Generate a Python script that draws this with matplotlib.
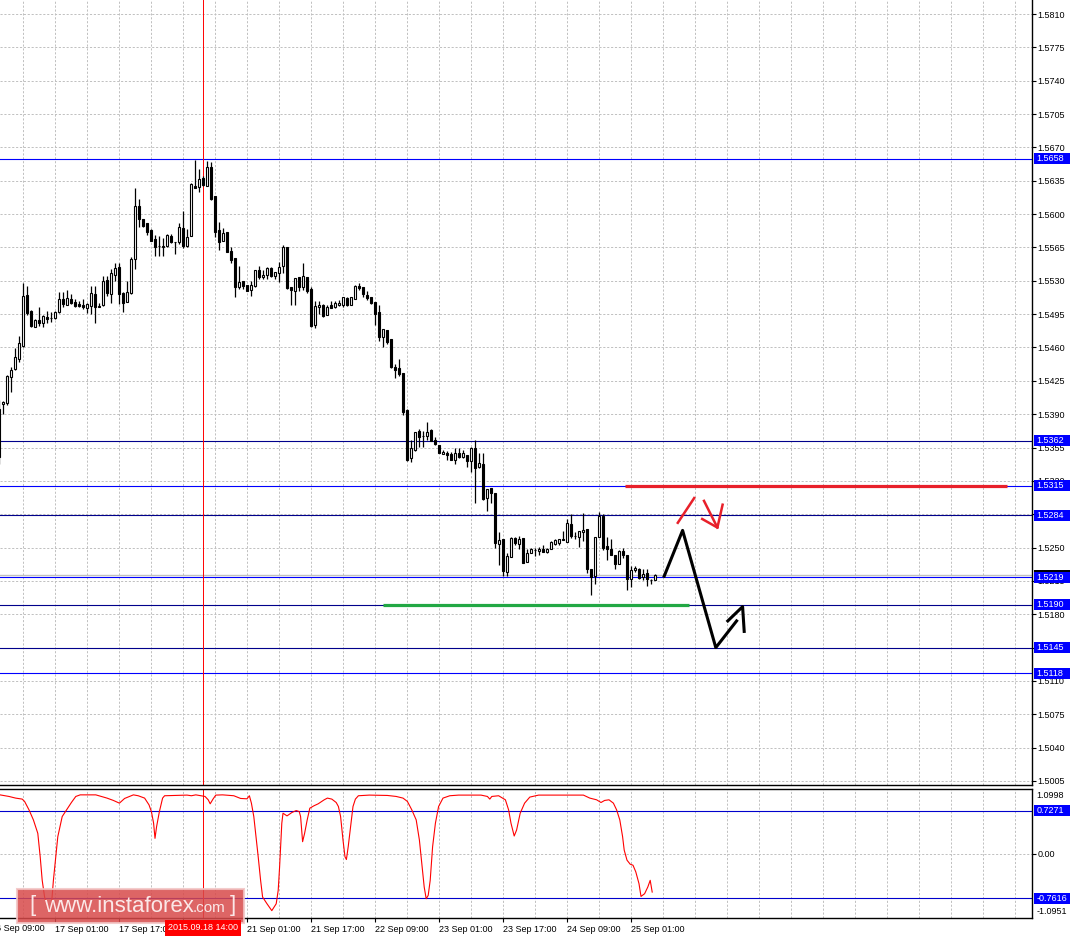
import numpy as np
import matplotlib
matplotlib.use('Agg')
import matplotlib.pyplot as plt
from matplotlib.patches import Rectangle

plt.rcParams['font.family'] = ['Liberation Sans', 'DejaVu Sans']

# H1 candles, bar -1 is cut at the left edge
first_bar = -1
opens = [
    1.5395, 1.5401, 1.5402, 1.5429, 1.5437, 1.5448, 1.5462, 1.5515, 1.5498, 1.5482,
    1.5489, 1.5486, 1.5492, 1.5491, 1.5491, 1.5497, 1.5511, 1.5505, 1.5511, 1.5508,
    1.5506, 1.5505, 1.5501, 1.5504, 1.5516, 1.5502, 1.5505, 1.5531, 1.5516, 1.5536,
    1.5544, 1.5517, 1.5508, 1.5517, 1.5553, 1.5608, 1.5595, 1.5591, 1.5583, 1.5574,
    1.5566, 1.5565, 1.5567, 1.5577, 1.5571, 1.5571, 1.5585, 1.5567, 1.5577, 1.5630,
    1.5628, 1.5638, 1.5630, 1.5649, 1.5619, 1.5583, 1.5572, 1.5581, 1.5561, 1.5554,
    1.5523, 1.5530, 1.5526, 1.5520, 1.5525, 1.5541, 1.5534, 1.5536, 1.5543, 1.5535,
    1.5538, 1.5545, 1.5565, 1.5524, 1.5519, 1.5534, 1.5524, 1.5534, 1.5521, 1.5484,
    1.5503, 1.5505, 1.5494, 1.5505, 1.5502, 1.5505, 1.5505, 1.5512, 1.5505, 1.5511,
    1.5525, 1.5523, 1.5515, 1.5513, 1.5508, 1.5497, 1.5471, 1.5478, 1.5469, 1.5440,
    1.5438, 1.5433, 1.5394, 1.5344, 1.5352, 1.5372, 1.5367, 1.5367, 1.5373, 1.5363,
    1.5358, 1.5348, 1.5349, 1.5348, 1.5342, 1.5349, 1.5345, 1.5347, 1.5341, 1.5354,
    1.5335, 1.5338, 1.5302, 1.5313, 1.5307, 1.5254, 1.5259, 1.5224, 1.5240, 1.5260,
    1.5254, 1.5260, 1.5235, 1.5244, 1.5247, 1.5246, 1.5248, 1.5245, 1.5248, 1.5254,
    1.5255, 1.5259, 1.5256, 1.5275, 1.5262, 1.5261, 1.5266, 1.5269, 1.5228, 1.5220,
    1.5261, 1.5283, 1.5252, 1.5249, 1.5242, 1.5233, 1.5246, 1.5242, 1.5217, 1.5226,
    1.5228, 1.5219, 1.5223, 1.5216, 1.5216,
]
highs = [
    1.5405, 1.5404, 1.5431, 1.5440, 1.5459, 1.5472, 1.5528, 1.5525, 1.5499, 1.5490,
    1.5503, 1.5494, 1.5498, 1.5497, 1.5498, 1.5518, 1.5518, 1.5520, 1.5516, 1.5511,
    1.5509, 1.5511, 1.5507, 1.5525, 1.5525, 1.5507, 1.5535, 1.5535, 1.5542, 1.5549,
    1.5549, 1.5518, 1.5530, 1.5555, 1.5627, 1.5616, 1.5595, 1.5591, 1.5584, 1.5578,
    1.5577, 1.5575, 1.5579, 1.5579, 1.5571, 1.5591, 1.5603, 1.5584, 1.5633, 1.5657,
    1.5647, 1.5640, 1.5656, 1.5655, 1.5619, 1.5592, 1.5585, 1.5581, 1.5565, 1.5554,
    1.5546, 1.5530, 1.5526, 1.5530, 1.5541, 1.5545, 1.5541, 1.5544, 1.5544, 1.5539,
    1.5550, 1.5568, 1.5565, 1.5524, 1.5533, 1.5534, 1.5549, 1.5534, 1.5524, 1.5509,
    1.5509, 1.5506, 1.5505, 1.5509, 1.5509, 1.5510, 1.5513, 1.5513, 1.5513, 1.5526,
    1.5528, 1.5524, 1.5519, 1.5513, 1.5508, 1.5505, 1.5479, 1.5478, 1.5469, 1.5443,
    1.5448, 1.5433, 1.5395, 1.5363, 1.5371, 1.5374, 1.5372, 1.5382, 1.5374, 1.5366,
    1.5358, 1.5352, 1.5351, 1.5350, 1.5354, 1.5354, 1.5352, 1.5347, 1.5356, 1.5363,
    1.5349, 1.5349, 1.5311, 1.5313, 1.5307, 1.5266, 1.5259, 1.5244, 1.5261, 1.5261,
    1.5262, 1.5260, 1.5248, 1.5250, 1.5250, 1.5251, 1.5253, 1.5250, 1.5257, 1.5259,
    1.5259, 1.5267, 1.5280, 1.5285, 1.5266, 1.5267, 1.5286, 1.5269, 1.5228, 1.5261,
    1.5287, 1.5285, 1.5261, 1.5259, 1.5242, 1.5247, 1.5250, 1.5242, 1.5231, 1.5231,
    1.5229, 1.5227, 1.5227, 1.5217, 1.5222,
]
lows = [
    1.5338, 1.5390, 1.5400, 1.5413, 1.5436, 1.5445, 1.5461, 1.5494, 1.5482, 1.5482,
    1.5483, 1.5482, 1.5486, 1.5487, 1.5490, 1.5496, 1.5503, 1.5505, 1.5506, 1.5503,
    1.5503, 1.5500, 1.5496, 1.5495, 1.5486, 1.5502, 1.5504, 1.5514, 1.5507, 1.5530,
    1.5506, 1.5497, 1.5508, 1.5516, 1.5542, 1.5586, 1.5586, 1.5578, 1.5572, 1.5556,
    1.5556, 1.5556, 1.5565, 1.5570, 1.5558, 1.5569, 1.5564, 1.5565, 1.5577, 1.5627,
    1.5623, 1.5630, 1.5630, 1.5615, 1.5576, 1.5562, 1.5572, 1.5560, 1.5549, 1.5513,
    1.5521, 1.5521, 1.5519, 1.5514, 1.5524, 1.5532, 1.5532, 1.5532, 1.5534, 1.5532,
    1.5529, 1.5538, 1.5521, 1.5505, 1.5505, 1.5519, 1.5520, 1.5517, 1.5482, 1.5480,
    1.5495, 1.5492, 1.5494, 1.5501, 1.5501, 1.5504, 1.5503, 1.5504, 1.5505, 1.5511,
    1.5520, 1.5513, 1.5510, 1.5506, 1.5484, 1.5467, 1.5460, 1.5464, 1.5438, 1.5428,
    1.5430, 1.5389, 1.5341, 1.5340, 1.5351, 1.5356, 1.5356, 1.5363, 1.5362, 1.5358,
    1.5349, 1.5348, 1.5342, 1.5342, 1.5338, 1.5344, 1.5344, 1.5335, 1.5329, 1.5297,
    1.5334, 1.5300, 1.5288, 1.5297, 1.5250, 1.5232, 1.5220, 1.5220, 1.5240, 1.5253,
    1.5248, 1.5234, 1.5235, 1.5244, 1.5241, 1.5242, 1.5245, 1.5244, 1.5248, 1.5253,
    1.5253, 1.5258, 1.5256, 1.5260, 1.5259, 1.5251, 1.5257, 1.5223, 1.5200, 1.5212,
    1.5261, 1.5247, 1.5237, 1.5242, 1.5228, 1.5233, 1.5239, 1.5205, 1.5209, 1.5224,
    1.5217, 1.5216, 1.5210, 1.5212, 1.5216,
]
closes = [
    1.5345, 1.5403, 1.5430, 1.5436, 1.5450, 1.5465, 1.5514, 1.5496, 1.5483, 1.5489,
    1.5486, 1.5493, 1.5490, 1.5491, 1.5497, 1.5511, 1.5506, 1.5512, 1.5507, 1.5504,
    1.5504, 1.5503, 1.5506, 1.5517, 1.5503, 1.5504, 1.5530, 1.5517, 1.5538, 1.5543,
    1.5516, 1.5507, 1.5518, 1.5553, 1.5609, 1.5595, 1.5588, 1.5581, 1.5572, 1.5565,
    1.5566, 1.5567, 1.5578, 1.5571, 1.5571, 1.5586, 1.5567, 1.5576, 1.5632, 1.5627,
    1.5637, 1.5631, 1.5649, 1.5616, 1.5581, 1.5571, 1.5580, 1.5560, 1.5552, 1.5524,
    1.5529, 1.5525, 1.5519, 1.5526, 1.5541, 1.5534, 1.5536, 1.5543, 1.5535, 1.5539,
    1.5544, 1.5565, 1.5522, 1.5520, 1.5533, 1.5523, 1.5535, 1.5519, 1.5483, 1.5504,
    1.5505, 1.5493, 1.5503, 1.5501, 1.5507, 1.5507, 1.5513, 1.5505, 1.5513, 1.5525,
    1.5522, 1.5516, 1.5512, 1.5507, 1.5495, 1.5471, 1.5479, 1.5466, 1.5439, 1.5436,
    1.5432, 1.5392, 1.5342, 1.5354, 1.5371, 1.5366, 1.5367, 1.5371, 1.5362, 1.5359,
    1.5349, 1.5350, 1.5347, 1.5342, 1.5349, 1.5345, 1.5349, 1.5341, 1.5355, 1.5334,
    1.5339, 1.5301, 1.5311, 1.5307, 1.5255, 1.5258, 1.5225, 1.5241, 1.5260, 1.5255,
    1.5259, 1.5234, 1.5244, 1.5248, 1.5247, 1.5248, 1.5245, 1.5248, 1.5256, 1.5258,
    1.5259, 1.5258, 1.5276, 1.5262, 1.5262, 1.5267, 1.5268, 1.5227, 1.5219, 1.5261,
    1.5283, 1.5250, 1.5248, 1.5242, 1.5233, 1.5246, 1.5242, 1.5217, 1.5226, 1.5229,
    1.5218, 1.5222, 1.5217, 1.5216, 1.5221,
]

# oscillator in the lower window (vertices)
ind_bars = [-0.75, 1.5, 3.15, 4.8, 5.4, 6.5, 7.6, 8.7, 9.3, 9.8, 10.4, 11.3, 12.0, 12.6,
            13.2, 13.7, 14.8, 16.0, 17.1, 18.2, 19.3, 23.2, 26.0, 27.6, 29.1, 30.4, 32.6,
            33.8, 35.4, 36.5, 37.1, 37.65, 38.0, 38.4, 39.1, 39.9, 40.4, 46.0, 47.1, 48.2,
            50.5, 51.3, 51.8, 52.5, 53.2, 54.9, 57.7, 59.4, 61.0, 61.6, 62.1, 62.7, 63.25,
            63.8, 64.4, 64.9, 66.0, 67.2, 68.3, 68.8, 69.15, 69.4, 69.7, 70.0, 71.0, 72.2,
            73.3, 74.05, 74.4, 74.9, 75.4, 76.05, 76.7, 77.7, 78.8, 80.3, 81.1, 82.2, 83.3,
            83.85, 84.4, 85.0, 85.5, 85.85, 86.3, 87.0, 87.5, 88.1, 88.85, 91.6, 96.1, 98.3,
            100.0, 101.1, 102.2, 103.3, 104.1, 104.8, 105.3, 105.8, 106.3, 106.8, 107.4,
            108.1, 108.9, 110.0, 111.7, 113.9, 119.5, 121.1, 121.7, 122.2, 123.9, 125.6,
            126.4, 127.0, 127.8, 128.4, 129.3, 130.4, 131.7, 133.9, 145.1, 146.7, 148.4,
            149.5, 150.4, 151.5, 152.6, 153.4, 154.2, 154.9, 155.3, 156.0, 156.8, 157.5,
            158.2, 159.0, 159.5, 160.4, 161.2, 161.8, 162.3]
ind_vals = [1.00, 0.973, 0.945, 0.928, 0.888, 0.745, 0.574, 0.345, -0.054, -0.454, -0.739,
            -0.97, -0.97, -0.454, -0.054, 0.288, 0.631, 0.756, 0.870, 0.973, 1.00, 1.00,
            0.945, 0.905, 0.859, 0.939, 1.00, 0.985, 0.945, 0.830, 0.716, 0.517, 0.260,
            0.460, 0.716, 0.945, 0.985, 0.996, 0.985, 1.00, 0.973, 0.916, 0.848, 0.928,
            0.996, 1.00, 0.985, 0.939, 0.933, 0.985, 0.859, 0.631, 0.288, -0.054, -0.454,
            -0.739, -0.853, -0.97, -0.853, -0.625, -0.225, 0.117, 0.517, 0.688, 0.642,
            0.699, 0.733, 0.716, 0.631, 0.203, 0.345, 0.574, 0.773, 0.813, 0.848, 0.916,
            0.945, 0.928, 0.870, 0.802, 0.631, 0.231, -0.054, -0.100, 0.117, 0.517, 0.802,
            0.928, 0.985, 0.996, 0.990, 0.973, 0.945, 0.888, 0.745, 0.574, 0.231, -0.225,
            -0.568, -0.768, -0.711, -0.454, 0.117, 0.517, 0.802, 0.945, 0.985, 0.996,
            0.996, 0.973, 0.928, 0.973, 0.985, 0.916, 0.745, 0.517, 0.300, 0.402, 0.688,
            0.859, 0.962, 0.996, 0.996, 0.945, 0.916, 0.870, 0.905, 0.916, 0.859, 0.745,
            0.574, 0.288, 0.060, -0.111, -0.180, -0.197, -0.311, -0.511, -0.728, -0.682,
            -0.568, -0.454, -0.654]

price_ticks = [1.5005, 1.5040, 1.5075, 1.5110, 1.5145, 1.5180, 1.5215, 1.5250, 1.5285,
               1.5320, 1.5355, 1.5390, 1.5425, 1.5460, 1.5495, 1.5530, 1.5565, 1.5600,
               1.5635, 1.5670, 1.5705, 1.5740, 1.5775, 1.5810]
levels = [1.5658, 1.5362, 1.5315, 1.5284, 1.5219, 1.5190, 1.5145, 1.5118]
level_colors = ['#0000ff', '#00008b', '#0000ff', '#00008b', '#0000ff', '#00008b', '#00008b', '#0000ff']
current_price = 1.5221
ind_levels = [0.7271, -0.7616]

time_ticks = [13, 29, 45, 61, 77, 93, 109, 125, 141, 157]
time_labels = ['17 Sep 01:00', '17 Sep 17:00', '18 Sep 09:00', '21 Sep 01:00', '21 Sep 17:00',
               '22 Sep 09:00', '23 Sep 01:00', '23 Sep 17:00', '24 Sep 09:00', '25 Sep 01:00']
cursor_bar = 50
cursor_label = '2015.09.18 14:00'

# hand drawn forecast
red_level_bars = [155.5, 251.0]
green_level_bars = [95.0, 171.5]
black_path_x = [165.3, 169.9, 178.2, 183.4]
black_path_y = [1.5220, 1.5268, 1.5145, 1.5173]
black_head_x = [181.2, 184.9, 185.3]
black_head_y = [1.5173, 1.5188, 1.5162]
red_up_x = [168.7, 172.8]
red_up_y = [1.5276, 1.5302]
red_down_x = [175.25, 178.6]
red_down_y = [1.5299, 1.5271]
red_head_x = [174.8, 178.6, 179.9]
red_head_y = [1.5280, 1.5271, 1.5295]

W, H = 1074, 940
fig = plt.figure(figsize=(W / 100, H / 100), dpi=100)
ax = fig.add_axes([0, 1 - 785 / H, 1032 / W, 785 / H])
ax2 = fig.add_axes([0, 1 - 918 / H, 1032 / W, 129 / H])

xmin, xmax = -0.75, 257.25
grid_kw = dict(color='#c0c0c0', lw=0.7, linestyle=(0, (2.2, 1.8)), zorder=0)
grid_bars = np.arange(5, 258, 8)

# ---- price window ----
ax.set_xlim(xmin, xmax)
ax.set_ylim(1.50008, 1.58247)
for b in grid_bars:
    ax.axvline(b, **grid_kw)
for p in price_ticks:
    ax.axhline(p, **grid_kw)

bars = np.arange(len(opens)) + first_bar
o = np.array(opens); c = np.array(closes)
ax.vlines(bars, lows, highs, color='black', lw=0.9, zorder=3)
up = c >= o
ax.bar(bars[up], np.maximum(c[up] - o[up], 0.00001), bottom=o[up], width=0.62,
       facecolor='white', edgecolor='black', lw=0.8, zorder=4)
ax.bar(bars[~up], o[~up] - c[~up], bottom=c[~up], width=0.62,
       facecolor='black', edgecolor='black', lw=0.8, zorder=4)

ax.axhline(current_price, color='#c0c0c0', lw=1.0, zorder=1)
for lv, col in zip(levels, level_colors):
    ax.axhline(lv, color=col, lw=0.8, zorder=2)
ax.axvline(cursor_bar, color='#ff0000', lw=0.7, zorder=2)

ax.plot(red_level_bars, [1.5315, 1.5315], color='#e8202a', lw=2.3, solid_capstyle='butt', zorder=5)
ax.plot(green_level_bars, [1.5190, 1.5190], color='#22a844', lw=2.3, solid_capstyle='butt', zorder=5)
ax.plot(black_path_x, black_path_y, color='black', lw=2.2, zorder=6)
ax.plot(black_head_x, black_head_y, color='black', lw=2.2, zorder=6)
ax.plot(red_up_x, red_up_y, color='#e8202a', lw=1.8, zorder=6)
ax.plot(red_down_x, red_down_y, color='#e8202a', lw=1.8, zorder=6)
ax.plot(red_head_x, red_head_y, color='#e8202a', lw=1.8, zorder=6)

ax.yaxis.tick_right()
ax.set_yticks(price_ticks)
ax.set_yticklabels([f'{p:.4f}' for p in price_ticks])
ax.tick_params(axis='y', direction='out', length=3, width=0.8, pad=0.8, labelsize=6.5)
ax.set_xticks([])
for s in ['left', 'top']:
    ax.spines[s].set_visible(False)
ax.spines['right'].set_linewidth(1.0)
ax.spines['bottom'].set_linewidth(1.0)

ytr = ax.get_yaxis_transform()
px_main = 0.00010495
def level_box(axis, tr, y, txt, fc, h):
    axis.add_patch(Rectangle((1.002, y - h / 2), 36 / 1032, h, transform=tr,
                             facecolor=fc, edgecolor='none', clip_on=False, zorder=7))
    if txt:
        axis.text(1.0045, y, txt, transform=tr, color='white', fontsize=6.5,
                  ha='left', va='center', clip_on=False, zorder=8)

# current price box sits behind the 1.5219 box, only its top edge shows
level_box(ax, ytr, current_price, '', 'black', 11 * px_main)
for lv in levels:
    level_box(ax, ytr, lv, f'{lv:.4f}', '#0000ff', 11 * px_main)

# ---- oscillator window ----
ax2.set_xlim(xmin, xmax)
ax2.set_ylim(-1.0951, 1.0998)
for b in grid_bars:
    ax2.axvline(b, **grid_kw)
ax2.axhline(0.0, **grid_kw)
for lv in ind_levels:
    ax2.axhline(lv, color='#0000cc', lw=0.8, zorder=2)
ax2.axvline(cursor_bar, color='#ff0000', lw=0.7, zorder=2)
ax2.plot(ind_bars, ind_vals, color='#ff0000', lw=0.8, zorder=3)

ax2.yaxis.tick_right()
ax2.set_yticks([0.0])
ax2.set_yticklabels(['0.00'])
ax2.tick_params(axis='y', direction='out', length=3, width=0.8, pad=0.8, labelsize=6.5)
ytr2 = ax2.get_yaxis_transform()
ax2.text(1.004, 1.0 - 1.5 / 129, '1.0998', transform=ax2.transAxes, fontsize=6.5,
         ha='left', va='top', clip_on=False)
ax2.text(1.004, 1.5 / 129, '-1.0951', transform=ax2.transAxes, fontsize=6.5,
         ha='left', va='bottom', clip_on=False)
for lv in ind_levels:
    level_box(ax2, ytr2, lv, f'{lv:.4f}', '#0000ff', 11 / 58.4)

ax2.set_xticks(time_ticks)
ax2.set_xticklabels(time_labels)
ax2.tick_params(axis='x', direction='out', length=3, width=0.8, pad=2, labelsize=6.5)
for lbl in ax2.get_xticklabels():
    lbl.set_ha('left')
ax2.text(-3, -0.045, '16 Sep 09:00', transform=ax2.get_xaxis_transform(), fontsize=6.5,
         ha='left', va='top', clip_on=False)
ax2.spines['left'].set_visible(False)
for s in ['right', 'bottom', 'top']:
    ax2.spines[s].set_linewidth(1.0)

# watermark
fig.patches.append(Rectangle((17 / W, 1 - 923 / H), 227 / W, 34 / H, transform=fig.transFigure,
                             facecolor='#d84a4a', alpha=0.85, edgecolor='#f2c4c4', lw=1.5, zorder=12))
fig.text(29 / W, 1 - 906 / H, '[', color='#fbe8e8', fontsize=16, ha='left', va='center', zorder=13)
fig.text(44 / W, 1 - 906 / H, 'www.instaforex', color='#fbe8e8', fontsize=16,
         ha='left', va='center', zorder=13)
fig.text(193 / W, 1 - 908 / H, '.com', color='#fbe8e8', fontsize=11,
         ha='left', va='center', zorder=13)
fig.text(230 / W, 1 - 906 / H, ']', color='#fbe8e8', fontsize=16, ha='left', va='center', zorder=13)

# cursor time box
fig.patches.append(Rectangle((165 / W, 1 - 936 / H), 76 / W, 16 / H, transform=fig.transFigure,
                             facecolor='#ff0000', edgecolor='none', zorder=14))
fig.text(203 / W, 1 - 928 / H, cursor_label, color='white', fontsize=6.5,
         ha='center', va='center', zorder=15)

fig.savefig('out.png', dpi=100)
